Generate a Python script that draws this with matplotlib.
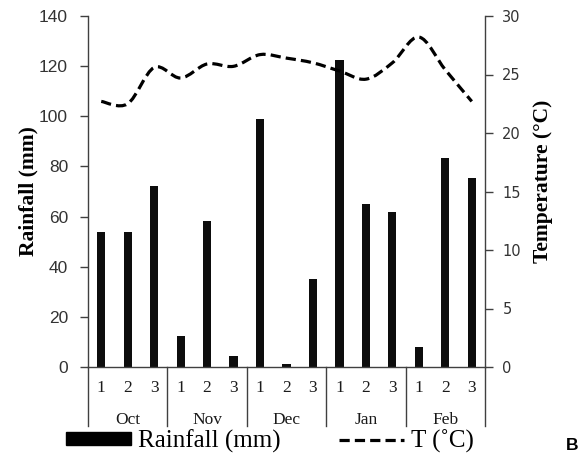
import matplotlib
matplotlib.use("Agg")
import matplotlib.pyplot as plt
import numpy as np
from matplotlib.path import Path
from matplotlib.patches import PathPatch, Patch
from matplotlib.lines import Line2D
from matplotlib.transforms import blended_transform_factory

months = ["Oct", "Nov", "Dec", "Jan", "Feb"]
dekads = ["1", "2", "3"]
rainfall = [54, 54, 72, 12.4, 58.4, 4.5, 98.8, 1.2, 35, 122.5, 65, 62, 8, 83.4, 75.2]
temperature = [22.7, 22.5, 25.6, 24.7, 25.9, 25.7, 26.7, 26.4, 26.0, 25.3, 24.6, 26.0, 28.2, 25.4, 22.7]

W, H = 582, 457
fig = plt.figure(figsize=(W / 100, H / 100), dpi=100)
L, R, T, B = 88, 485, 16, 367
ax = fig.add_axes([L / W, 1 - B / H, (R - L) / W, (B - T) / H])
ax2 = ax.twinx()

spine_col = "#404040"
x = np.arange(len(rainfall))
ax.bar(x, rainfall, width=0.31, color="#0d0d0d", zorder=2)
ax.set_xlim(-0.5, len(rainfall) - 0.5)
ax.set_ylim(0, 140)
ax.set_yticks(np.arange(0, 141, 20))
ax2.set_ylim(0, 30)
ax2.set_yticks(np.arange(0, 31, 5))

# smoothed temperature line (Catmull-Rom style Bezier through data points)
pts = np.column_stack([x, temperature]).astype(float)
n = len(pts)
verts = [pts[0]]
codes = [Path.MOVETO]
for i in range(n - 1):
    p0 = pts[i - 1] if i > 0 else pts[i]
    p1 = pts[i]
    p2 = pts[i + 1]
    p3 = pts[i + 2] if i + 2 < n else pts[i + 1]
    c1 = p1 + (p2 - p0) / 6.0
    c2 = p2 - (p3 - p1) / 6.0
    verts += [c1, c2, p2]
    codes += [Path.CURVE4] * 3
path = Path(verts, codes)
ax2.add_patch(PathPatch(path, facecolor="none", edgecolor="black", lw=2.3,
                        linestyle=(0, (3.2, 1.6)), zorder=3))

for a in (ax, ax2):
    a.spines["top"].set_visible(False)
    for s in a.spines.values():
        s.set_color(spine_col)
        s.set_linewidth(1.0)
ax.spines["right"].set_visible(False)
ax2.spines["left"].set_visible(False)
ax2.spines["bottom"].set_visible(False)

ax.tick_params(axis="y", direction="out", length=6, width=1, color=spine_col, pad=8.4)
ax2.tick_params(axis="y", direction="out", length=6, width=1, color=spine_col, pad=6.5)
ax.set_xticks([])
for lab in ax.get_yticklabels():
    lab.set_fontfamily("Liberation Sans")
    lab.set_fontsize(12.5)
    lab.set_color("#333333")
for lab in ax2.get_yticklabels():
    lab.set_fontfamily("DejaVu Sans")
    lab.set_fontsize(10.5)
    lab.set_color("#333333")

ax.set_ylabel("Rainfall (mm)", fontfamily="Liberation Serif", fontweight="bold",
              fontsize=15.5, labelpad=0.5)
ax2.set_ylabel("Temperature (°C)", fontfamily="Liberation Serif", fontweight="bold",
               fontsize=15.5, labelpad=7.5)
ax2.yaxis.set_label_coords(1.0 + (543 - R) / (R - L), 0.53)
ax2.yaxis.label.set_va("center")

# multi-level category axis
tr = blended_transform_factory(ax.transData, ax.transAxes)
ax_h = B - T
y_num = -(388 - B) / ax_h
y_mon = -(420 - B) / ax_h
y_sep = -(426 - B) / ax_h
for i in range(len(rainfall)):
    ax.text(i, y_num, dekads[i % 3], transform=tr, ha="center", va="center",
            fontfamily="Liberation Serif", fontsize=12.5, color="#1a1a1a")
for m, name in enumerate(months):
    ax.text(3 * m + 1, y_mon, name, transform=tr, ha="center", va="center",
            fontfamily="Liberation Serif", fontsize=12.5, color="#1a1a1a")
for k in range(len(months) + 1):
    ax.plot([3 * k - 0.5, 3 * k - 0.5], [0, y_sep], transform=tr, color=spine_col,
            lw=1.0, clip_on=False)

handles = [Patch(facecolor="black", edgecolor="black"),
           Line2D([], [], color="black", lw=2.3, linestyle=(0, (3.2, 1.6)))]
fig.legend(handles, ["Rainfall (mm)", "T (˚C)"], loc="center",
           bbox_to_anchor=(270 / W, 1 - 441 / H), ncol=2, frameon=False,
           prop={"family": "Liberation Serif", "size": 18},
           handlelength=2.6, handleheight=0.4, handletextpad=0.3,
           columnspacing=2.3, borderaxespad=0, borderpad=0)

fig.text(572 / W, 1 - 445 / H, "B", ha="center", va="center",
         fontfamily="Liberation Sans", fontweight="bold", fontsize=12.5)

fig.savefig("out.png", dpi=100)
